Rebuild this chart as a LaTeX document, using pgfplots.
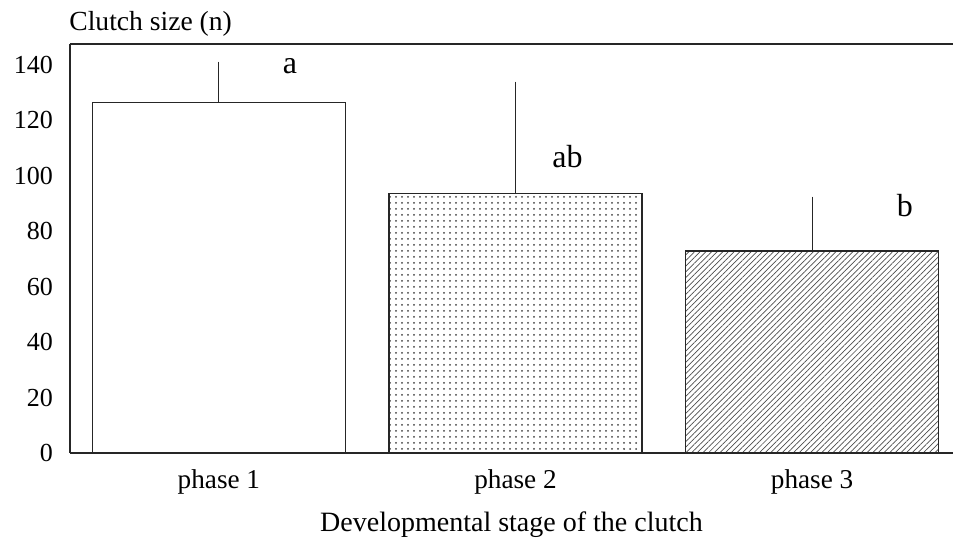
\documentclass[border=0pt]{standalone}
\usepackage{pgfplots}
\pgfplotsset{compat=1.18}
\usepackage{fontspec}
\setmainfont{Liberation Serif}
\usetikzlibrary{patterns,patterns.meta,calc}
\begin{document}
\begin{tikzpicture}
\begin{axis}[
  name=ax,
  at={(0pt,0pt)}, anchor=south west,
  scale only axis,
  width=441.5pt, height=204.5pt,
  xmin=-0.502, xmax=2.475,
  ymin=0, ymax=147.6,
  axis x line*=bottom, axis y line*=left,
  axis line style={line width=0.6pt, black!85},
  xtick={0,1,2},
  xticklabels={phase 1, phase 2, phase 3},
  ytick={0,20,40,60,80,100,120,140},
  major tick length=0pt,
  /pgf/number format/assume math mode=true,
  yticklabel style={font=\fontsize{13}{15}\selectfont, xshift=-5pt},
  xticklabel style={font=\fontsize{13.6}{15}\selectfont, yshift=-5pt},
  xlabel={Developmental stage of the clutch},
  xlabel style={font=\fontsize{14}{16}\selectfont, yshift=-1.5pt},
  clip=false,
]
\draw[line width=0.6pt, black!85] (rel axis cs:0,1) -- (rel axis cs:1,1);
\addplot[ybar, bar width=126.5pt, draw=black!85, line width=0.6pt, fill=white,
  error bars/.cd, y dir=plus, y explicit, error mark=none,
  error bar style={line width=0.6pt, black!85}]
  coordinates {(0,126.4) +- (0,14.8)};
\addplot[ybar, bar width=126.5pt, draw=black!85, line width=0.6pt,
  pattern=dots, pattern color=black!75,
  error bars/.cd, y dir=plus, y explicit, error mark=none,
  error bar style={line width=0.6pt, black!85}]
  coordinates {(1,93.7) +- (0,40.3)};
\addplot[ybar, bar width=126.5pt, draw=black!85, line width=0.6pt,
  pattern={Lines[angle=45, distance=2pt, line width=0.35pt]}, pattern color=black!70,
  error bars/.cd, y dir=plus, y explicit, error mark=none,
  error bar style={line width=0.6pt, black!85}]
  coordinates {(2,72.9) +- (0,19.6)};
\node[anchor=base, font=\fontsize{16}{18}\selectfont] at (axis cs:0.24,136.8) {a};
\node[anchor=base, font=\fontsize{16}{18}\selectfont] at (axis cs:1.175,102.9) {ab};
\node[anchor=base, font=\fontsize{16}{18}\selectfont] at (axis cs:2.313,85.2) {b};
\node[anchor=base west, inner sep=0pt, font=\fontsize{13.8}{16}\selectfont] at ($(rel axis cs:0,1)+(-0.5pt,6.5pt)$) {Clutch size (n)};
\end{axis}
\pgfresetboundingbox
\path[use as bounding box] ($(ax.south west)+(-35pt,-43pt)$) rectangle ($(ax.north east)+(0pt,22pt)$);
\end{tikzpicture}
\end{document}
